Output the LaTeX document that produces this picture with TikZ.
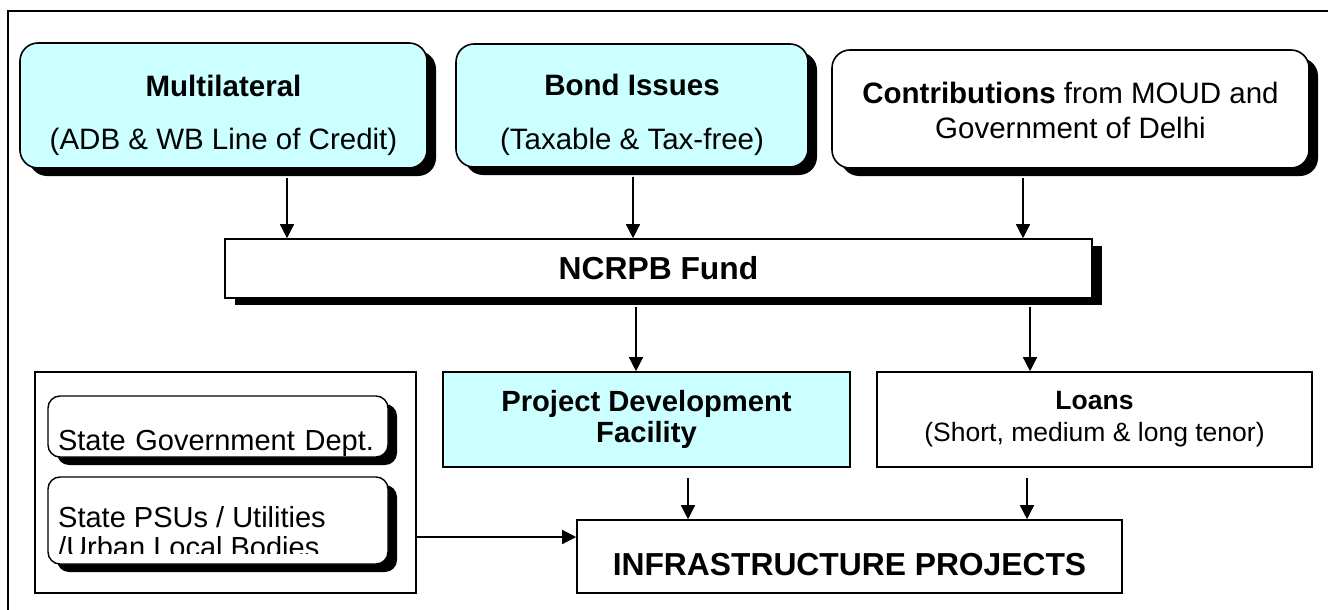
\documentclass[tikz,border=0pt]{standalone}
\usepackage{fontspec}
\setmainfont{Liberation Sans}
\usetikzlibrary{positioning, arrows.meta, shadows}
\definecolor{paleaqua}{RGB}{204,255,255}

\begin{document}
\begin{tikzpicture}[x=1pt, y=-1pt,
		source/.style={draw=black, line width=1.6pt, rounded corners=18pt, align=center, inner sep=0pt,
			drop shadow={shadow xshift=9pt, shadow yshift=-8pt, fill=black, opacity=1}},
		agency/.style={draw=black, line width=1.4pt, rounded corners=12pt, fill=white, inner xsep=10pt,
			minimum width=340pt, drop shadow={shadow xshift=9pt, shadow yshift=-8pt, fill=black, opacity=1}},
		plainbox/.style={draw=black, line width=1.6pt, align=center, inner sep=0pt},
		flow/.style={-{Triangle[width=14pt, length=14pt]}, line width=1.4pt}]
		
		\useasboundingbox (0,0) rectangle (1328,610);
		
		% --- Outer frame (open to the right and bottom) ---
		\draw[line width=1.5pt] (8,610) -- (8,11) -- (1328,11);
		
		% --- Sources of funds ---
		\node[source, fill=paleaqua, minimum width=407pt, minimum height=125pt,
			font=\fontsize{29.5}{53}\selectfont] (mult) at (223.5,105.5)
			{\rule{0pt}{41pt}\textbf{Multilateral}\\(ADB \& WB Line of Credit)};
		\node[source, fill=paleaqua, minimum width=352pt, minimum height=123pt,
			font=\fontsize{29.5}{54}\selectfont] (bond) at (632,105.5)
			{\rule{0pt}{41pt}\textbf{Bond Issues}\\(Taxable \& Tax-free)};
		\node[source, fill=white, minimum width=477pt, minimum height=118pt,
			font=\fontsize{29.5}{35}\selectfont] (contrib) at (1070.5,109)
			{\rule{0pt}{25pt}\textbf{Contributions} from MOUD and\\Government of Delhi};
		
		% --- Fund ---
		\node[plainbox, fill=white, minimum width=867pt, minimum height=59pt,
			font=\fontsize{31.8}{38}\selectfont\bfseries,
			drop shadow={shadow xshift=10pt, shadow yshift=-7pt, fill=black, opacity=1}] (fund) at (658.5,268.5) {NCRPB Fund};
		
		% --- Windows of the fund ---
		\node[plainbox, fill=paleaqua, minimum width=407pt, minimum height=95pt,
			font=\fontsize{29.2}{31}\selectfont\bfseries] (pdf) at (646.5,419.5) {Project Development\\Facility};
		\node[plainbox, fill=white, minimum width=435pt, minimum height=95pt,
			font=\fontsize{26.5}{32}\selectfont] (loans) at (1094.5,419.5) {\textbf{Loans}\\(Short, medium \& long tenor)};
		
		% --- Projects ---
		\node[plainbox, minimum width=545pt, minimum height=73pt, text height=37pt, text depth=0pt,
			font=\fontsize{31.8}{38}\selectfont\bfseries] (infra) at (849.5,556.5) {INFRASTRUCTURE PROJECTS};
		
		% --- Implementing agencies ---
		\node[draw=black, line width=1.4pt, minimum width=381pt, minimum height=221pt] (agencies) at (225.5,482.5) {};
		\node[agency, minimum height=61pt, text width=320pt, align=left, text height=47pt, text depth=0pt,
			font=\fontsize{29}{30}\selectfont] (sgd) at (218,426.5) {\hbox{State Government Dept.}};
		\node[agency, minimum height=87pt] (psu) at (218,520.5) {};
		\begin{scope}
			\clip (psu.north west) rectangle ([yshift=11pt]psu.south east);
			\node[anchor=north west, inner sep=0pt, align=left, font=\fontsize{29}{30}\selectfont]
				at (58,506) {State PSUs / Utilities\\/Urban Local Bodies};
		\end{scope}
		
		% --- Flows ---
		\coordinate (m1) at ([xshift=63.5pt]mult.south);
		\coordinate (b1) at ([xshift=1pt]bond.south);
		\coordinate (c1) at ([xshift=-47.5pt]contrib.south);
		\draw[flow] ([yshift=-9pt]m1) -- (m1 |- fund.north);
		\draw[flow] ([yshift=-9pt]b1) -- (b1 |- fund.north);
		\draw[flow] ([yshift=-9pt]c1) -- (c1 |- fund.north);
		
		\coordinate (p1) at ([xshift=-10.5pt]pdf.north);
		\coordinate (l1) at ([xshift=-64.5pt]loans.north);
		\draw[flow] (p1 |- fund.south) ++(0,8) -- (p1);
		\draw[flow] (l1 |- fund.south) ++(0,8) -- (l1);
		
		\coordinate (i1) at ([xshift=-161.5pt]infra.north);
		\coordinate (i2) at ([xshift=177.5pt]infra.north);
		\draw[flow] ([yshift=-10pt]i1 |- pdf.south) -- (i1);
		\draw[flow] ([yshift=-10pt]i2 |- loans.south) -- (i2);
		
		\coordinate (i3) at ([yshift=19.5pt]infra.west);
		\draw[flow] (i3 -| agencies.east) -- (i3);
		
	\end{tikzpicture}
\end{document}
